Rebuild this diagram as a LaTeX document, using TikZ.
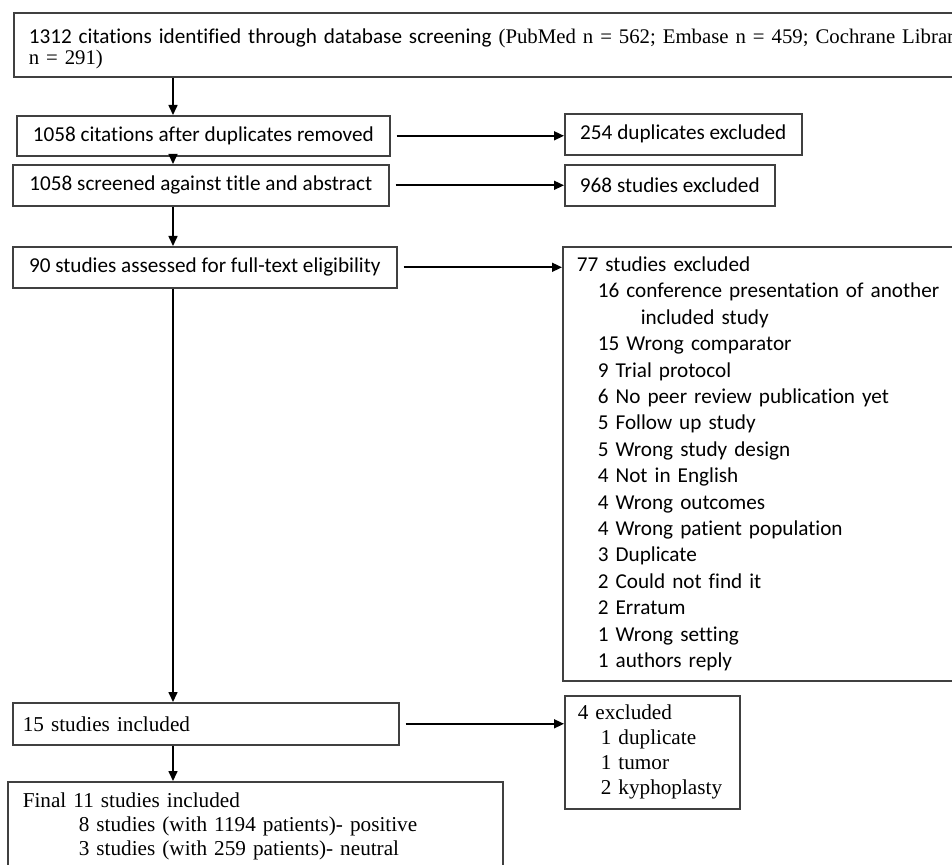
\documentclass[tikz,border=0pt]{standalone}
\usepackage{fontspec}
\setmainfont{Carlito}[Ligatures=NoCommon]
\newfontfamily\timesfont{Liberation Serif}
\usetikzlibrary{arrows.meta, positioning, calc}
\newcommand\calsize{\fontsize{10.6pt}{13.2pt}\selectfont}
\newcommand\timessize{\timesfont\fontsize{10.6pt}{12.5pt}\selectfont}
\tikzset{
  myarr/.style   = {-{Triangle[length=5pt, width=4.5pt]}, line width=0.8pt},
  %% Box presets
  cbox/.style = {draw=black!75, line width=0.8pt, anchor=north west, inner sep=0pt, font=\calsize},
  lbox/.style = {draw=black!75, line width=0.8pt, anchor=north west, inner ysep=0pt, align=left},
}

\begin{document}
\begin{tikzpicture}[x=0.5pt, y=-0.5pt]
\useasboundingbox (0,0) rectangle (952,865);
\coordinate (spine) at (173,0);

%% ---- (1) Database search ----
\node[lbox, inner xsep=7.5pt, text width=480pt, minimum height=32pt,
      font={\timesfont\fontsize{10.4pt}{10.5pt}\selectfont}] (search) at (13,12) {
  \rule{0pt}{11.5pt}{\rmfamily\fontsize{10.6pt}{10.5pt}\selectfont 1312 citations identified through database screening }(PubMed n = 562; Embase n = 459; Cochrane Library\\
  n = 291)
};

%% ---- (2) Duplicates ----
\node[cbox, minimum width=186.5pt, minimum height=20pt] (dedup) at (16,115) {1058 citations after duplicates removed};
\node[cbox, minimum width=118.5pt, minimum height=20.5pt] (dupexcl) at (564,113) {254 duplicates excluded};

\draw[myarr] (search.south -| spine) -- (dedup.north -| spine);
\draw[myarr, shorten <=3pt] (dedup.east) -- (dedup.east -| dupexcl.west);

%% ---- (3) Title / abstract screening ----
\node[cbox, minimum width=188pt, minimum height=20.5pt] (screen) at (12,164) {1058 screened against title and abstract};
\node[cbox, minimum width=105pt, minimum height=20.5pt] (screxcl) at (564,164) {968 studies excluded};

\draw[myarr] (dedup.south -| spine) -- (screen.north -| spine);
\draw[myarr, shorten <=3pt] (screen.east) -- (screen.east -| screxcl.west);

%% ---- (4) Full-text eligibility ----
\node[cbox, minimum width=192pt, minimum height=20.5pt] (fulltext) at (12,246) {90 studies assessed for full-text eligibility};
\node[lbox, inner xsep=7pt, text width=195pt, minimum height=217pt,
      font=\calsize] (ftexcl) at (562,246) {
  77 studies excluded\\
  \hspace*{10.5pt}16 conference presentation of another\\
  \hspace*{32pt}included study\\
  \hspace*{10.5pt}15 Wrong comparator\\
  \hspace*{10.5pt}9 Trial protocol\\
  \hspace*{10.5pt}6 No peer review publication yet\\
  \hspace*{10.5pt}5 Follow up study\\
  \hspace*{10.5pt}5 Wrong study design\\
  \hspace*{10.5pt}4 Not in English\\
  \hspace*{10.5pt}4 Wrong outcomes\\
  \hspace*{10.5pt}4 Wrong patient population\\
  \hspace*{10.5pt}3 Duplicate\\
  \hspace*{10.5pt}2 Could not find it\\
  \hspace*{10.5pt}2 Erratum\\
  \hspace*{10.5pt}1 Wrong setting\\
  \hspace*{10.5pt}1 authors reply
};

\draw[myarr] (screen.south -| spine) -- (fulltext.north -| spine);
\draw[myarr, shorten <=3pt] (fulltext.east) -- (fulltext.east -| ftexcl.west);

%% ---- (5) Included ----
\node[lbox, inner xsep=5pt, text width=183pt, minimum height=21pt,
      font=\timessize] (included) at (12,702) {15 studies included};
\node[lbox, inner xsep=6.5pt, text width=74.5pt, minimum height=56.5pt,
      font=\timessize] (lateexcl) at (564,695) {
  4 excluded\\
  \hspace*{11.5pt}1 duplicate\\
  \hspace*{11.5pt}1 tumor\\
  \hspace*{11.5pt}2 kyphoplasty
};

\draw[myarr] (fulltext.south -| spine) -- (included.north -| spine);
\draw[myarr, shorten <=3pt] (included.east) -- (included.east -| lateexcl.west);

%% ---- (6) Final set ----
\node[lbox, inner xsep=7.5pt, text width=232.5pt, minimum height=45pt,
      font={\timesfont\fontsize{10.6pt}{12pt}\selectfont}] (final) at (7,781) {
  Final 11 studies included\\
  \hspace*{28pt}8 studies (with 1194 patients)- positive\\
  \hspace*{28pt}3 studies (with 259 patients)- neutral
};

\draw[myarr] (included.south -| spine) -- (final.north -| spine);

\end{tikzpicture}
\end{document}
